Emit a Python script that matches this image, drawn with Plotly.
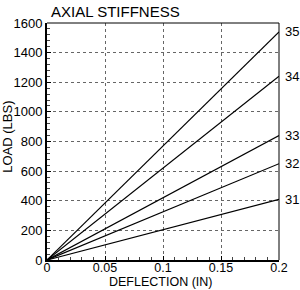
import plotly.graph_objects as go

deflection = [0.0, 0.2]
series_names = ["35", "34", "33", "32", "31"]
end_loads = [1540, 1240, 840, 650, 410]
x_ticks = [0, 0.05, 0.1, 0.15, 0.2]
x_tick_labels = ["0", "0.05", "0.1", "0.15", "0.2"]
y_ticks = [0, 200, 400, 600, 800, 1000, 1200, 1400, 1600]

fig = go.Figure()
for name, load in zip(series_names, end_loads):
    fig.add_trace(go.Scatter(x=deflection, y=[0, load], mode="lines",
                             line=dict(color="black", width=1.2), name=name,
                             showlegend=False, hoverinfo="skip"))
    fig.add_annotation(x=deflection[-1], y=load, text=name, showarrow=False,
                       xanchor="left", yanchor="middle", xshift=4,
                       font=dict(size=13, color="black"))

font = "Liberation Sans, Arial, sans-serif"
fig.update_layout(
    width=300, height=290,
    margin=dict(l=47, r=21, t=23, b=30),
    paper_bgcolor="white", plot_bgcolor="white",
    font=dict(family=font, size=13, color="black"),
    title=dict(text="AXIAL STIFFNESS", x=51/300, xanchor="left", y=1-12/290,
               yanchor="middle", font=dict(size=15, color="black")),
)
# axis titles as annotations
fig.add_annotation(text="DEFLECTION (IN)", xref="paper", yref="paper",
                   x=0.49, y=-30/237, xanchor="center", yanchor="bottom",
                   showarrow=False, font=dict(size=12.5), borderpad=0)
fig.add_annotation(text="LOAD (LBS)", xref="paper", yref="paper",
                   x=-39/232, y=0.52, xanchor="center", yanchor="middle",
                   textangle=-90, showarrow=False, font=dict(size=13))
fig.update_xaxes(
    range=[0, 0.2], tickvals=x_ticks, ticktext=x_tick_labels,
    showgrid=True, gridcolor="#666", griddash="dot", gridwidth=1,
    showline=True, linecolor="black", linewidth=2,
    ticks="inside", ticklen=4, tickcolor="black",
    minor=dict(dtick=0.01, ticks="inside", ticklen=3, tickcolor="#444", showgrid=False),
    zeroline=False, automargin=False,
    ticklabelstandoff=-5,
    tickfont=dict(size=12.5),
)
fig.update_yaxes(
    range=[0, 1600], tickvals=y_ticks,
    showgrid=True, gridcolor="#666", griddash="dot", gridwidth=1,
    showline=True, linecolor="black", linewidth=2,
    ticks="inside", ticklen=4, tickcolor="black",
    minor=dict(dtick=40, ticks="inside", ticklen=3, tickcolor="#444", showgrid=False),
    zeroline=False, automargin=False,
    tickfont=dict(size=13),
)
# thin top and right frame
fig.add_shape(type="line", xref="paper", yref="paper", x0=0, x1=1, y0=1, y1=1,
              line=dict(color="black", width=1))
fig.add_shape(type="line", xref="paper", yref="paper", x0=1, x1=1, y0=0, y1=1,
              line=dict(color="black", width=1))

fig.write_html("out.html")
